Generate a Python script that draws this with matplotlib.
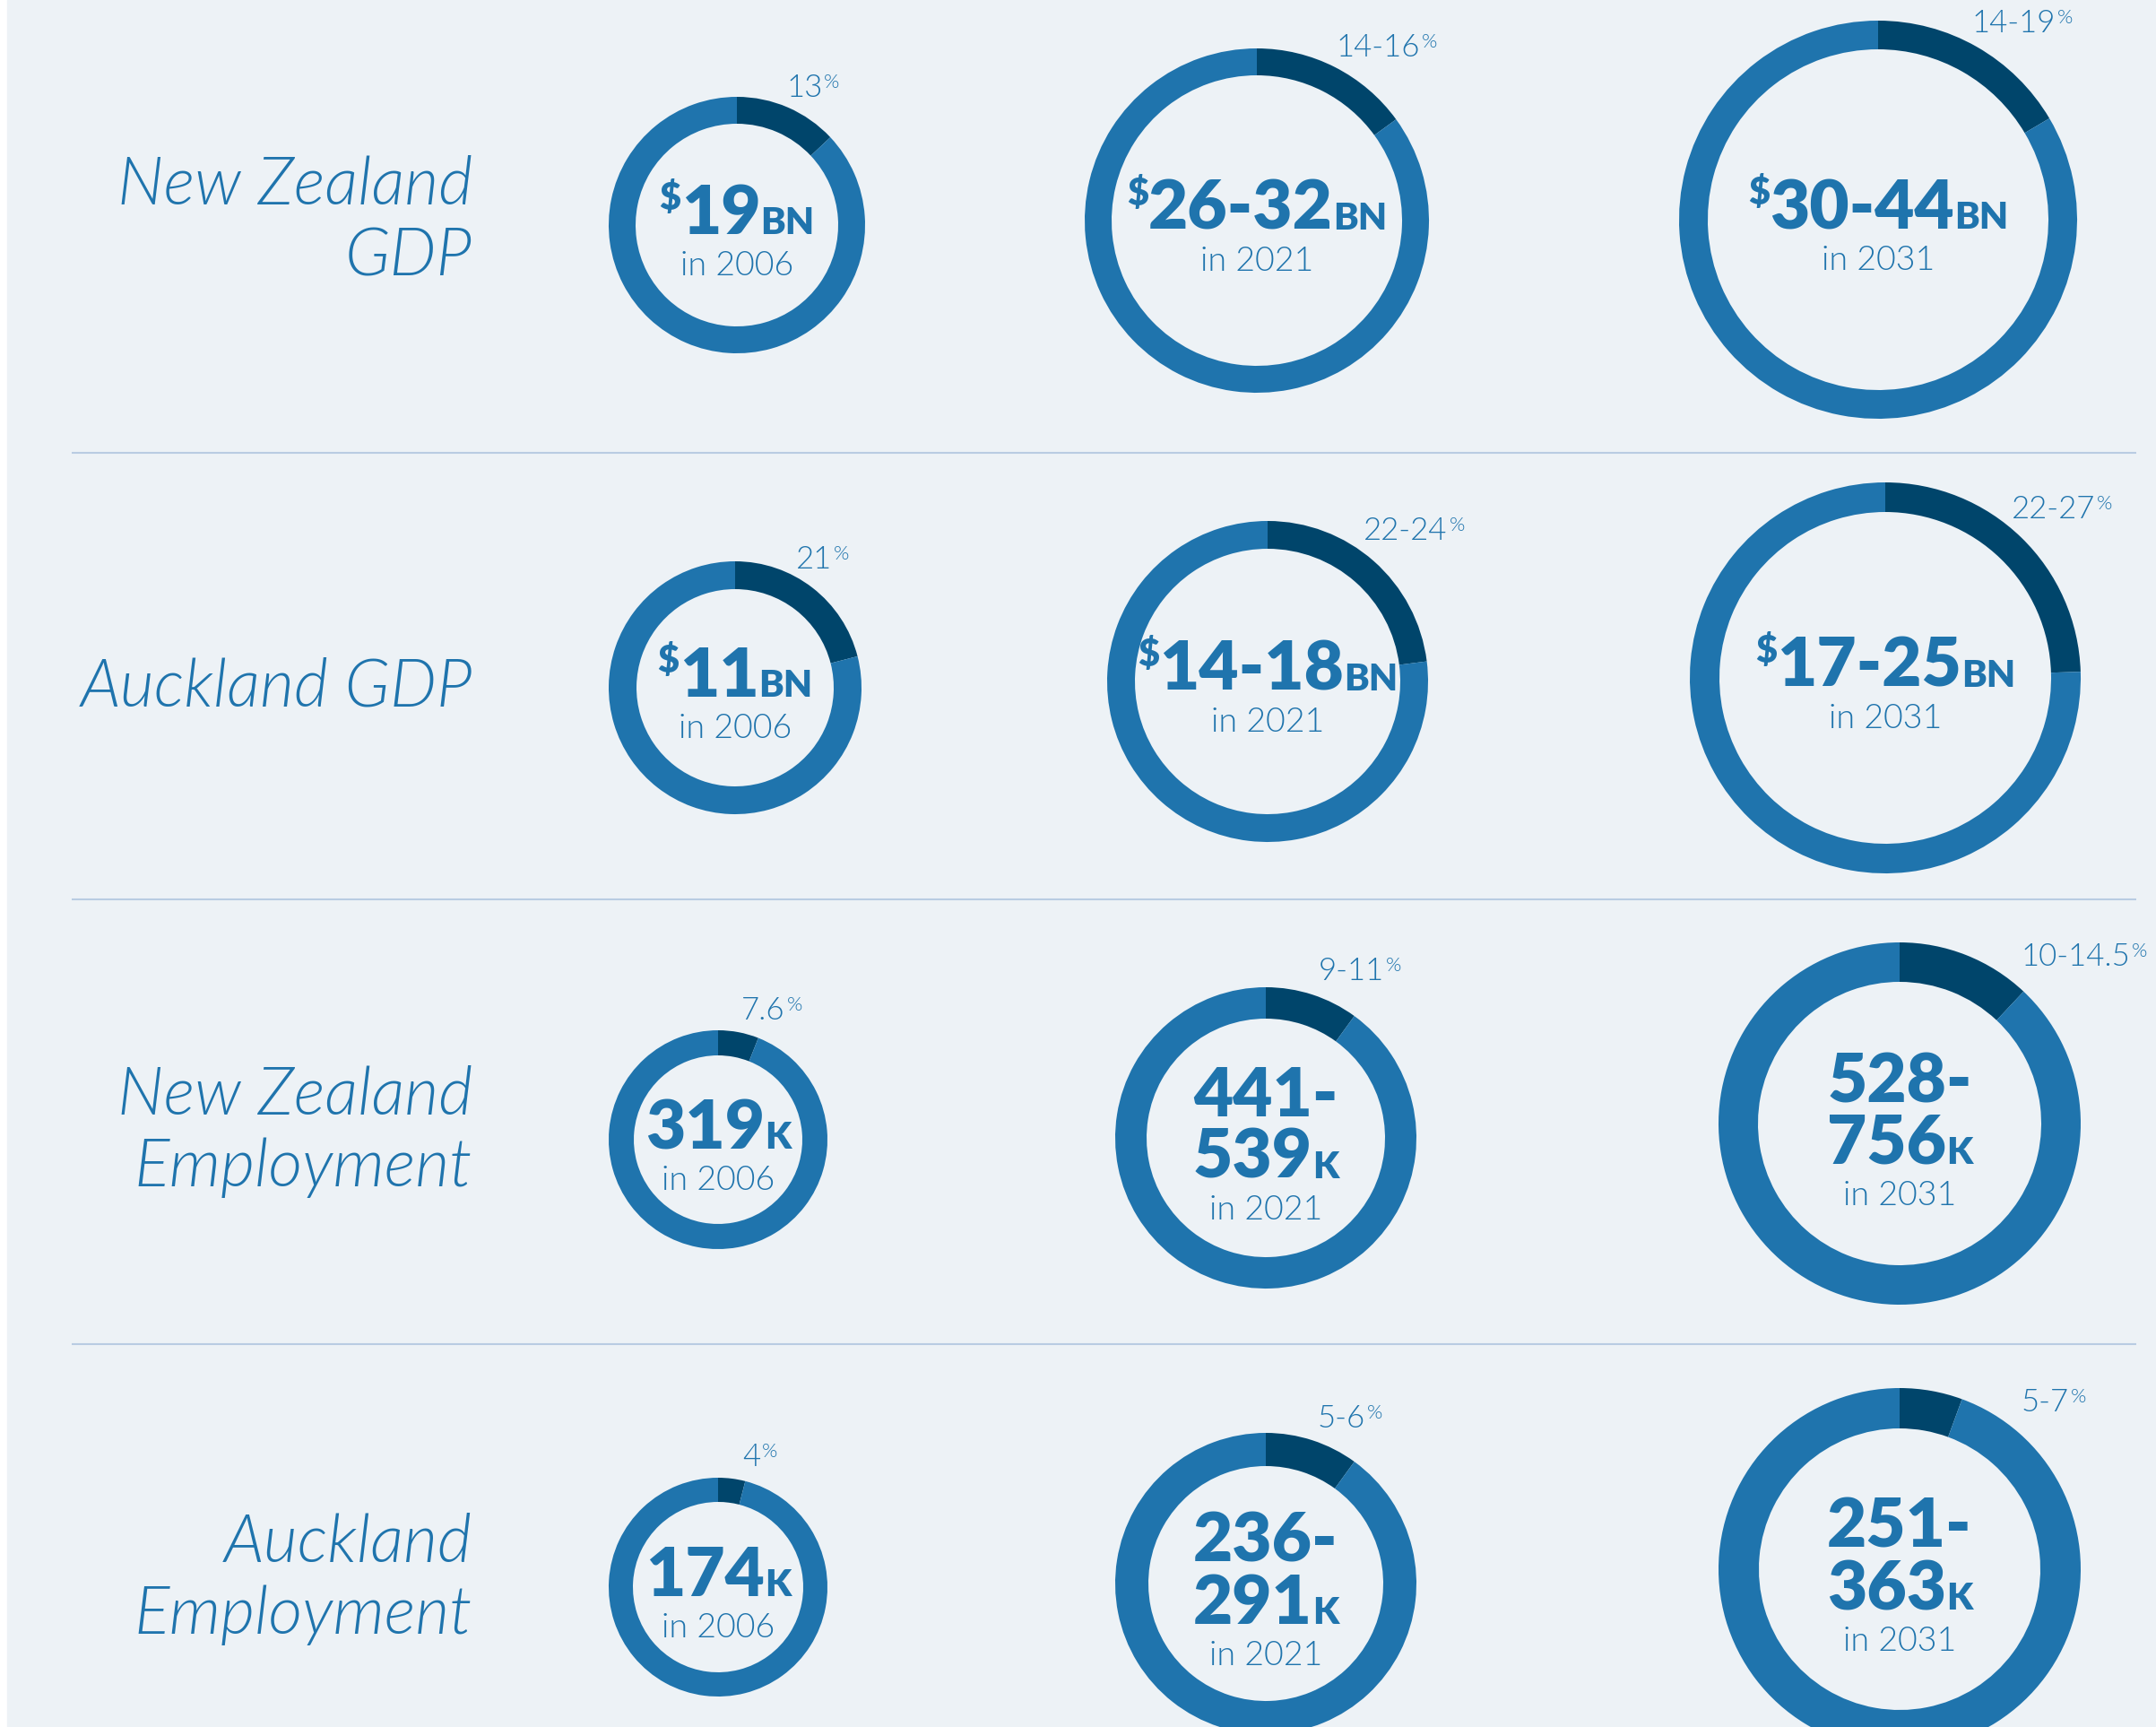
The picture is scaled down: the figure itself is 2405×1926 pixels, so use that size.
import matplotlib
matplotlib.use("Agg")
import matplotlib.pyplot as plt

plt.rcParams["font.family"] = ["Lato", "DejaVu Sans"]

# ---- data ----
row_titles = ["New Zealand\nGDP", "Auckland GDP", "New Zealand\nEmployment", "Auckland\nEmployment"]
years = ["2006", "2021", "2031"]

nz_gdp = ["19", "26-32", "30-44"]
akl_gdp = ["11", "14-18", "17-25"]
nz_emp = ["319", "441-539", "528-756"]
akl_emp = ["174", "236-291", "251-363"]
prefixes = ["$", "$", "", ""]
units = ["BN", "BN", "K", "K"]

# share labels as printed
nz_gdp_pct = ["13", "14-16", "14-19"]
akl_gdp_pct = ["21", "22-24", "22-27"]
nz_emp_pct = ["7.6", "9-11", "10-14.5"]
akl_emp_pct = ["4", "5-6", "5-7"]

# share drawn as the dark arc (%)
nz_gdp_share = [13, 15, 16.5]
akl_gdp_share = [21, 23, 24.5]
nz_emp_share = [6, 10, 12]
akl_emp_share = [4, 10, 5.6]

values = [nz_gdp, akl_gdp, nz_emp, akl_emp]
pcts = [nz_gdp_pct, akl_gdp_pct, nz_emp_pct, akl_emp_pct]
shares = [nz_gdp_share, akl_gdp_share, nz_emp_share, akl_emp_share]

# ---- layout (pixels) ----
W, H = 2405, 1926
centres = [[(822, 251), (1402, 246), (2095, 245)],
           [(820, 767), (1414, 760), (2103, 756)],
           [(801, 1271), (1412, 1269), (2119, 1253)],
           [(801, 1770), (1412, 1766), (2119, 1750)]]
radii = [[143, 192, 222], [141, 179, 218], [122, 168, 202], [122, 168, 202]]
ring_w = [[30, 30, 32], [31, 31, 33], [28, 35, 44], [27, 37, 45]]
pct_pos = [[(877, 108), (1490, 63), (2199, 36)],
           [(888, 634), (1521, 602), (2244, 578)],
           [(827, 1137), (1471, 1093), (2254, 1077)],
           [(828, 1635), (1470, 1592), (2255, 1574)]]
title_base = [228, 788, 1243, 1742]
title_x = 527
sep_y = [505, 1003, 1499]

BG = "#EDF2F6"
BLUE = "#1F74AD"
DARK = "#00456B"
LINE = "#B9CCE2"

BIG, UNIT, DOLLAR, YEAR, PCT, PSIGN, TITLE = 55, 30, 30, 27, 25, 16, 53
THIN = 300
HEAVY = 800

fig = plt.figure(figsize=(W / 100, H / 100), dpi=100, facecolor="white")
ax = fig.add_axes([0, 0, 1, 1])
ax.set_facecolor("white")
ax.axhspan(0, H, xmin=8 / W, xmax=1, color=BG, zorder=0)
renderer = fig.canvas.get_renderer()


def text_w(s, size, weight):
    t = ax.text(0, 0, s, fontsize=size, fontweight=weight)
    w = t.get_window_extent(renderer).width
    t.remove()
    return w


def run(cx, y, parts):
    widths = [text_w(s, size, HEAVY) for s, size, _ in parts]
    x = cx - sum(widths) / 2
    for (s, size, mode), w in zip(parts, widths):
        if mode == "top":
            ax.text(x, y - 60, s, fontsize=size, fontweight=HEAVY, color=BLUE,
                    ha="left", va="top")
        else:
            ax.text(x, y, s, fontsize=size, fontweight=HEAVY, color=BLUE,
                    ha="left", va="baseline")
        x += w


for r in range(4):
    # row title
    for k, line in enumerate(row_titles[r].split("\n")):
        ax.text(title_x, title_base[r] + 80 * k, line, fontsize=TITLE,
                style="italic", fontweight=THIN, color=BLUE,
                ha="right", va="baseline")
    for c in range(3):
        cx, cy = centres[r][c]
        share = shares[r][c]
        ax.pie([share, 100 - share], colors=[DARK, BLUE], startangle=270,
               counterclock=True, radius=radii[r][c], center=(cx, cy),
               wedgeprops=dict(width=ring_w[r][c], linewidth=0), frame=True)

        # centre value
        val = values[r][c]
        if units[r] == "K" and "-" in val:
            first, second = val.split("-")
            run(cx, cy - 24, [(first + "-", BIG, "base")])
            run(cx, cy + 45, [(second, BIG, "base"), (units[r], UNIT, "base")])
            year_y = cy + 91
        else:
            parts = []
            if prefixes[r]:
                parts.append((prefixes[r], DOLLAR, "top"))
            parts += [(val, BIG, "base"), (units[r], UNIT, "base")]
            run(cx, cy + 10, parts)
            year_y = cy + 56
        ax.text(cx, year_y, "in " + years[c], fontsize=YEAR, fontweight=THIN,
                color=BLUE, ha="center", va="baseline")

        # share label with small superscript %
        px, py = pct_pos[r][c]
        t = ax.text(px, py, pcts[r][c], fontsize=PCT, fontweight=THIN,
                    color=BLUE, ha="left", va="baseline")
        pw = t.get_window_extent(renderer).width
        ax.text(px + pw + 2, py - 26, "%", fontsize=PSIGN, fontweight=THIN,
                color=BLUE, ha="left", va="top")

for y in sep_y:
    ax.plot([80, 2383], [y, y], color=LINE, linewidth=1.5, solid_capstyle="butt")

ax.set_xlim(0, W)
ax.set_ylim(H, 0)
ax.set_aspect("auto")
ax.set_axis_off()

fig.savefig("out.png", dpi=100, facecolor="white")
